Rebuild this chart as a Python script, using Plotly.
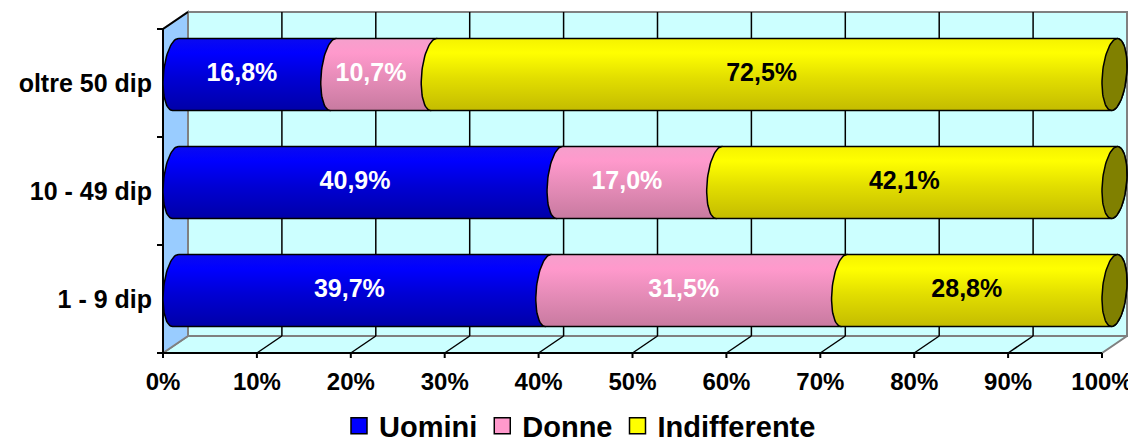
import numpy as np
import plotly.graph_objects as go

# ------------------------------- data -------------------------------- #
categories = ["1 - 9 dip", "10 - 49 dip", "oltre 50 dip"]
series_names = ["Uomini", "Donne", "Indifferente"]
uomini = [39.7, 40.9, 16.8]
donne = [31.5, 17.0, 10.7]
indifferente = [28.8, 42.1, 72.5]
x_ticks = [0, 10, 20, 30, 40, 50, 60, 70, 80, 90, 100]
x_tick_labels = ["0%", "10%", "20%", "30%", "40%", "50%", "60%", "70%", "80%", "90%", "100%"]

series_values = [uomini, donne, indifferente]

# ------------------------------ styling ------------------------------ #
FONT = "Liberation Sans, Arial, sans-serif"
OFF = 8                      # page body margin of the html page
W, H = 1136 - OFF, 444 - OFF

# pixel geometry of the 3d box (figure coords)
FRONT_LEFT, FRONT_BOTTOM = 163 - OFF, 353 - OFF
PX = 9.39          # px per percent
PY = 108           # px per category
DX, DY = 25, 17    # depth offset in px
R = 35             # cylinder radius (px)

PLOT_L, PLOT_R, PLOT_T, PLOT_B = 155 - OFF, 1132 - OFF, 9 - OFF, 359 - OFF

x_range = [-(FRONT_LEFT - PLOT_L) / PX, (PLOT_R - FRONT_LEFT) / PX]
y_range = [-(PLOT_B - FRONT_BOTTOM) / PY, (FRONT_BOTTOM - PLOT_T) / PY]
dxu, dyu = DX / PX, DY / PY
n_cat = len(categories)

colors = ["#0000FF", "#FF99CC", "#FFFF00"]
label_colors = ["white", "white", "black"]
gradients = [
    [[0, "#0000A8"], [0.45, "#0000D4"], [0.8, "#0000FF"], [1, "#0A0AF0"]],
    [[0, "#C87AA0"], [0.45, "#E68CB8"], [0.8, "#FF99CC"], [1, "#F5A0CC"]],
    [[0, "#C4BC00"], [0.45, "#E2DE00"], [0.8, "#FFFF00"], [1, "#F5F200"]],
]

t0 = np.arctan2(DY / 2, R)


def ell(cx, cy, t):
    xs = cx + (DX / 2 * np.sin(t)) / PX
    ys = cy + (R * np.cos(t) + DY / 2 * np.sin(t)) / PY
    return xs, ys


fig = go.Figure()

# ----------------------------- cylinders ----------------------------- #
for i in range(n_cat):
    cy = i + 0.5 + dyu / 2
    start = 0.0
    for s, vals in enumerate(series_values):
        a, b = start, start + vals[i]
        lx, ly = ell(a + dxu / 2, cy, np.linspace(t0, t0 - np.pi, 40))
        rx, ry = ell(b + dxu / 2, cy, np.linspace(t0 + np.pi, t0, 40))
        xs = np.concatenate([lx, rx, lx[:1]])
        ys = np.concatenate([ly, ry, ly[:1]])
        fig.add_trace(go.Scatter(
            x=xs, y=ys, mode="lines", fill="toself",
            line=dict(color="black", width=1.5),
            fillgradient=dict(type="vertical", colorscale=gradients[s]),
            showlegend=False, hoverinfo="skip",
        ))
        start = b
    # visible end face
    ex, ey = ell(start + dxu / 2, cy, np.linspace(0, 2 * np.pi, 80))
    fig.add_trace(go.Scatter(
        x=ex, y=ey, mode="lines", fill="toself", fillcolor="#808000",
        line=dict(color="black", width=1.5), showlegend=False, hoverinfo="skip",
    ))

# ------------------------------ labels ------------------------------- #
lab_x, lab_y, lab_t, lab_c = [], [], [], []
for i in range(n_cat):
    start = 0.0
    for s, vals in enumerate(series_values):
        lab_x.append(start + vals[i] / 2)
        lab_y.append(i + 0.5 + dyu / 2)
        lab_t.append(f"{vals[i]:.1f}".replace(".", ",") + "%")
        lab_c.append(label_colors[s])
        start += vals[i]

fig.add_trace(go.Scatter(
    x=lab_x, y=lab_y, mode="text", text=lab_t,
    textfont=dict(family=FONT, size=25, color=lab_c, weight="bold"),
    showlegend=False, hoverinfo="skip",
))

# legend entries
for name, c in zip(series_names, colors):
    fig.add_trace(go.Scatter(
        x=[None], y=[None], mode="markers", name=name,
        marker=dict(symbol="square", size=16, color=c,
                    line=dict(color="black", width=1.5)),
    ))

# --------------------------- walls / grid ---------------------------- #
shapes = []
gray = "#808080"
# back wall
shapes.append(dict(type="rect", x0=dxu, x1=100 + dxu, y0=dyu, y1=n_cat + dyu,
                   fillcolor="#CCFFFF", line=dict(color=gray, width=2), layer="below"))
# floor
shapes.append(dict(type="path",
                   path=f"M0,0 L100,0 L{100 + dxu},{dyu} L{dxu},{dyu} Z",
                   fillcolor="#CCFFFF", line=dict(color=gray, width=2), layer="below"))
# side wall
shapes.append(dict(type="path",
                   path=f"M0,0 L{dxu},{dyu} L{dxu},{n_cat + dyu} L0,{n_cat} Z",
                   fillcolor="#99CCFF", line=dict(color=gray, width=2), layer="below"))
for v in x_ticks[1:-1]:
    shapes.append(dict(type="line", x0=v + dxu, x1=v + dxu, y0=dyu, y1=n_cat + dyu,
                       line=dict(color="black", width=1.5), layer="below"))
    shapes.append(dict(type="line", x0=v, x1=v + dxu, y0=0, y1=dyu,
                       line=dict(color="black", width=1.5), layer="below"))
# axes
shapes.append(dict(type="line", x0=0, x1=100, y0=0, y1=0,
                   line=dict(color="black", width=2), layer="below"))
shapes.append(dict(type="line", x0=0, x1=0, y0=0, y1=n_cat,
                   line=dict(color="black", width=2), layer="below"))
shapes.append(dict(type="line", x0=0, x1=dxu, y0=n_cat, y1=n_cat + dyu,
                   line=dict(color="black", width=2), layer="below"))
for v in x_ticks:
    shapes.append(dict(type="line", x0=v, x1=v, y0=0, y1=-5 / PY,
                       line=dict(color="black", width=2), layer="below"))
for k in range(n_cat + 1):
    shapes.append(dict(type="line", x0=0, x1=-6 / PX, y0=k, y1=k,
                       line=dict(color="black", width=2), layer="below"))

plot_w = PLOT_R - PLOT_L
plot_h = PLOT_B - PLOT_T

fig.update_layout(
    width=W, height=H,
    margin=dict(l=PLOT_L, r=W - PLOT_R, t=PLOT_T, b=H - PLOT_B, pad=0, autoexpand=False),
    paper_bgcolor="white", plot_bgcolor="white",
    shapes=shapes,
    showlegend=True,
    legend=dict(orientation="h", x=(580 - OFF - PLOT_L) / plot_w, xanchor="center",
                y=-(426 - OFF - PLOT_B) / plot_h, yanchor="middle",
                font=dict(family=FONT, size=29, color="black", weight="bold"),
                itemsizing="trace", tracegroupgap=0, itemwidth=30),
    xaxis=dict(range=x_range, tickvals=x_ticks, ticktext=x_tick_labels,
               showgrid=False, zeroline=False, showline=False, ticks="",
               ticklabelstandoff=6, automargin=False,
               tickfont=dict(family=FONT, size=24, color="black", weight="bold"),
               fixedrange=True),
    yaxis=dict(range=y_range, tickvals=[k + 0.5 for k in range(n_cat)], ticktext=categories,
               showgrid=False, zeroline=False, showline=False, ticks="",
               ticklabelstandoff=2, automargin=False,
               tickfont=dict(family=FONT, size=25, color="black", weight="bold"),
               fixedrange=True),
)

fig.write_html("out.html")
